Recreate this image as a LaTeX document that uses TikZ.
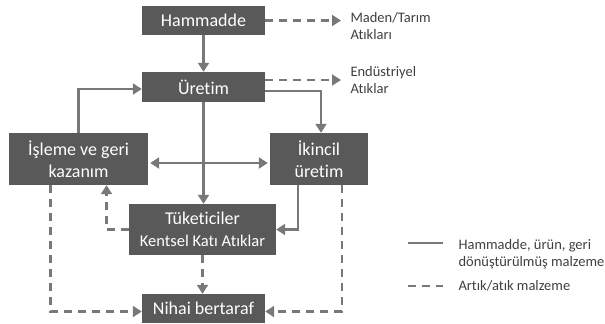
\documentclass[tikz,border=0pt]{standalone}
\usepackage{fontspec}
\setmainfont{Carlito}[Ligatures=NoCommon]
\usepackage{tikz}
\usetikzlibrary{arrows.meta, positioning}

\definecolor{boxgray}{RGB}{89,89,89}
\definecolor{linegray}{RGB}{120,120,120}
\definecolor{notegray}{RGB}{64,64,64}

\tikzset{
  stage/.style={fill=boxgray, text=white, inner sep=0pt, align=center,
    font=\fontsize{18bp}{22bp}\selectfont},
  flow/.style={draw=linegray, line width=2.1bp},
  waste/.style={flow, dash pattern=on 8bp off 6bp},
  note/.style={text=notegray, anchor=west, align=left,
    font=\fontsize{14.5bp}{16.5bp}\selectfont}
}

\begin{document}
\begin{tikzpicture}[->, >={Triangle[length=9bp, width=11bp]}, x=1bp, y=-1bp]
    \useasboundingbox (0,0) rectangle (605,323);
    % stages of the material flow
    \node[stage, minimum width=123bp, minimum height=29bp] (raw) at (203.5,20.5) {Hammadde};
    \node[stage, minimum width=123bp, minimum height=30bp] (prod) at (203.5,87) {Üretim};
    \node[stage, minimum width=139bp, minimum height=52bp] (recov) at (78.5,159) {İşleme ve geri\\kazanım};
    \node[stage, minimum width=98bp, minimum height=52bp] (second) at (319,159) {İkincil\\üretim};
    \node[stage, minimum width=147bp, minimum height=51bp] (cons) at (202.5,229.5)
        {Tüketiciler\\{\fontsize{16.5bp}{18bp}\selectfont Kentsel Katı Atıklar}};
    \node[stage, minimum width=123bp, minimum height=29bp] (final) at (203.5,308.5) {Nihai bertaraf};
    % waste outputs
    \node[note] (mine) at (347,26) {Maden/Tarım\\Atıkları};
    \node[note] (indw) at (347,80) {Endüstriyel\\Atıklar};

    \draw[waste] (raw.east) -- ([xshift=-6bp]mine.west |- raw.east);
    \draw[waste] (prod.east |- indw.west) -- ([xshift=-6bp]indw.west);

    % solid flows
    \draw[flow] (raw.south) -- (prod.north);
    \draw[flow] ([yshift=-4bp]prod.east) -| ([xshift=2bp]second.north);
    \draw[flow] (recov.north) |- ([yshift=-2bp]prod.west);
    \draw[flow] (prod.south) -- (prod.south |- cons.north);
    \draw[flow, <->, shorten <=2bp, shorten >=2bp] ([yshift=-4bp]recov.east) -- ([yshift=-4bp]second.west);
    \draw[flow] ([xshift=-21bp]second.south) |- (cons.east);

    % dashed flows
    \draw[waste] (cons.west) -| ([xshift=28bp]recov.south);
    \draw[waste] (cons.south) -- (cons.south |- final.north);
    \draw[waste] ([xshift=-28bp]recov.south) |- ([yshift=-3bp]final.west);
    \draw[waste] ([xshift=23bp]second.south) |- ([yshift=-3bp]final.east);

    % legend
    \coordinate (solidA) at (408,243);
    \coordinate (solidB) at (443,243);
    \coordinate (dashA) at (408,286);
    \coordinate (dashB) at (443,286);
    \draw[flow, -] (solidA) -- (solidB);
    \draw[waste, -] (dashA) -- (dashB);
    \node[note] (solidkey) at (455,254) {Hammadde, ürün, geri\\dönüştürülmüş malzeme};
    \node[note] (dashkey) at (455,286) {Artık/atık malzeme};
\end{tikzpicture}
\end{document}
